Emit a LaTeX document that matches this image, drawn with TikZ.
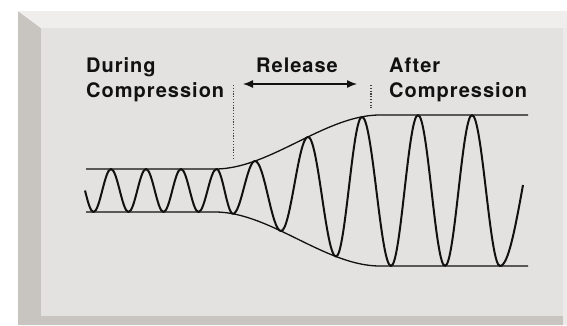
\documentclass[tikz,border=0pt]{standalone}
\usepackage{fontspec}
\newfontfamily\lblfont[LetterSpace=5.0]{TeX Gyre Heros}
\usetikzlibrary{arrows.meta}
\definecolor{panel_face}{HTML}{E3E2E1}
\definecolor{panel_top}{HTML}{EFEEED}
\definecolor{panel_side}{HTML}{C8C4C0}
\definecolor{panel_right}{HTML}{ECEBEA}
\definecolor{ink}{HTML}{111111}

\begin{document}
\begin{tikzpicture}[
    x=1pt, y=-1pt, >=Latex,
    every node/.style={inner sep=0pt, font=\lblfont\bfseries\fontsize{20}{25}\selectfont, text=ink},
    wave/.style={line width=2pt, line join=round, draw=ink},
    envelope/.style={line width=1.3pt, draw=ink},
    marker/.style={dash pattern=on 1.2pt off 1.6pt, line width=1.2pt, draw=black!75},
    declare function={ramp(\x)=min(1,max(0,(\x-215)/165)); amp(\x)=21.5+54*(3*ramp(\x)^2-2*ramp(\x)^3);}
]
\useasboundingbox (0,0) rectangle (567,325);
% panel with bevelled edges
\fill[panel_side] (18,11) -- (41,28) -- (41,316) -- (563,316) -- (563,325) -- (18,325) -- cycle;
\fill[panel_top] (18,11) -- (567,11) -- (567,28) -- (41,28) -- cycle;
\fill[panel_right] (563,28) rectangle (567,325);
\fill[panel_face] (41,28) rectangle (563,316);

\node (during_top) [anchor=base west] at (86,72) {During};
\node (during_bottom) [anchor=base west] at (86,97) {Compression};
\node (release) [anchor=base] at (297,72) {Release};
\node (after_top) [anchor=base west] at (389,72) {After};
\node (after_bottom) [anchor=base west] at (389,97) {Compression};

\coordinate (release_left) at (243,84);
\coordinate (release_right) at (357,84);
\coordinate (start_release_top) at (233.5,85);
\coordinate (start_release_bottom) at (233.5,159);
\coordinate (end_release_top) at (371,85);
\coordinate (end_release_bottom) at (371,108);

\draw[<->, line width=1.3pt, draw=ink, >={Latex[length=10pt,width=8pt]}] (release_left) -- (release_right);
\draw[marker] (start_release_top) -- (start_release_bottom);
\draw[marker] (end_release_top) -- (end_release_bottom);

% envelope
\draw[envelope] plot[domain=86:528, samples=150] (\x,{190.5-amp(\x)});
\draw[envelope] plot[domain=86:528, samples=150] (\x,{190.5+amp(\x)});

% signal
\draw[wave] (85,190.5) sin (93.5,{190.5+amp(93.5)})
  \foreach \xb/\sb [remember=\xb as \xa (initially 93.5), remember=\sb as \sa (initially 1)] in
    {111/-1, 128.5/1, 146/-1, 163.5/1, 181/-1, 198.5/1, 216.5/-1, 233/1, 255/-1, 281/1, 308/-1, 336/1, 362/-1, 391/1, 418/-1, 445/1, 472/-1, 500/1}
  { cos ({(\xa+\xb)/2},{190.5+((\sa)*amp(\xa)+(\sb)*amp(\xb))/2}) sin (\xb,{190.5+(\sb)*amp(\xb)}) }
  cos (523,185);
\end{tikzpicture}
\end{document}
